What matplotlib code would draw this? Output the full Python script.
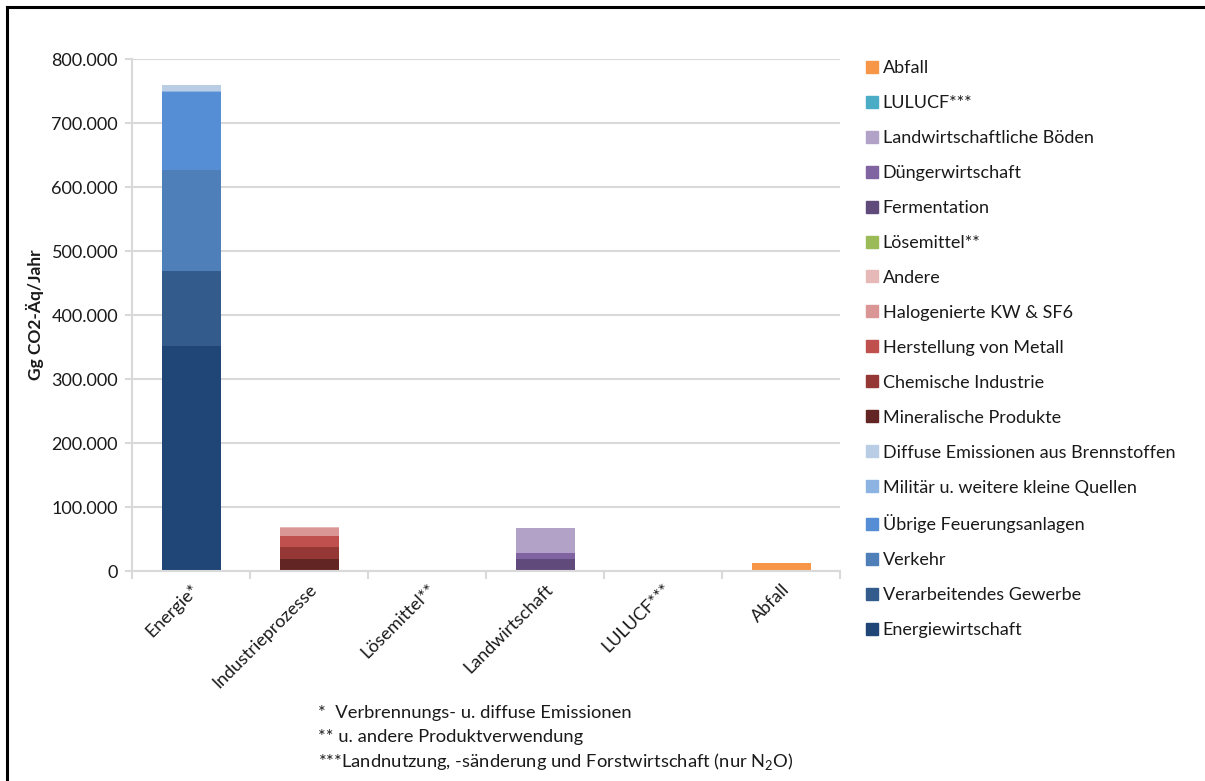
import numpy as np
import matplotlib.pyplot as plt
from matplotlib.ticker import FuncFormatter
from matplotlib.lines import Line2D

plt.rcParams['font.family'] = ['Lato', 'DejaVu Sans']
plt.rcParams['mathtext.fontset'] = 'custom'
plt.rcParams['mathtext.rm'] = 'Lato'

categories = ['Energie*', 'Industrieprozesse', 'Lösemittel**', 'Landwirtschaft', 'LULUCF***', 'Abfall']

# Gg CO2-Äq per sub-source, one value per category (stacking order bottom -> top)
energiewirtschaft = [352000, 0, 0, 0, 0, 0]
verarbeitendes_gewerbe = [116000, 0, 0, 0, 0, 0]
verkehr = [158000, 0, 0, 0, 0, 0]
uebrige_feuerung = [122000, 0, 0, 0, 0, 0]
militaer = [1500, 0, 0, 0, 0, 0]
diffuse = [9500, 0, 0, 0, 0, 0]
mineralische = [0, 18000, 0, 0, 0, 0]
chemische = [0, 19000, 0, 0, 0, 0]
metall = [0, 18000, 0, 0, 0, 0]
halogenierte = [0, 12500, 0, 0, 0, 0]
andere = [0, 500, 0, 0, 0, 0]
loesemittel = [0, 0, 0, 0, 0, 0]
fermentation = [0, 0, 0, 19500, 0, 0]
duenger = [0, 0, 0, 8000, 0, 0]
boeden = [0, 0, 0, 40000, 0, 0]
lulucf = [0, 0, 0, 0, 0, 0]
abfall = [0, 0, 0, 0, 0, 13000]

series = [
    ('Energiewirtschaft', energiewirtschaft, '#1F4677'),
    ('Verarbeitendes Gewerbe', verarbeitendes_gewerbe, '#335C8D'),
    ('Verkehr', verkehr, '#4F7FB8'),
    ('Übrige Feuerungsanlagen', uebrige_feuerung, '#558ED5'),
    ('Militär u. weitere kleine Quellen', militaer, '#8DB3E2'),
    ('Diffuse Emissionen aus Brennstoffen', diffuse, '#B9CDE5'),
    ('Mineralische Produkte', mineralische, '#632523'),
    ('Chemische Industrie', chemische, '#953735'),
    ('Herstellung von Metall', metall, '#C0504D'),
    ('Halogenierte KW & SF6', halogenierte, '#D99694'),
    ('Andere', andere, '#E6B9B8'),
    ('Lösemittel**', loesemittel, '#9BBB59'),
    ('Fermentation', fermentation, '#604A7B'),
    ('Düngerwirtschaft', duenger, '#8064A2'),
    ('Landwirtschaftliche Böden', boeden, '#B3A2C7'),
    ('LULUCF***', lulucf, '#4BACC6'),
    ('Abfall', abfall, '#F79646'),
]

FS = 13
TXT = '#1a1a1a'

W, H = 1205, 781
fig = plt.figure(figsize=(W / 100, H / 100), dpi=100)
ax = fig.add_axes([132 / W, 1 - 571 / H, (840 - 132) / W, (571 - 59) / H])

x = np.arange(len(categories))
bottom = np.zeros(len(categories))
for name, vals, col in series:
    vals = np.array(vals, dtype=float)
    ax.bar(x, vals, 0.5, bottom=bottom, color=col, label=name)
    bottom += vals

ax.set_xlim(-0.5, len(categories) - 0.5)
ax.set_ylim(0, 800000)
ax.set_yticks(np.arange(0, 800001, 100000))
ax.yaxis.set_major_formatter(FuncFormatter(lambda v, p: f'{int(v):,}'.replace(',', '.')))
ax.yaxis.grid(True, color='#D9D9D9', lw=1.5)
ax.set_axisbelow(True)
for s in ['top', 'right']:
    ax.spines[s].set_visible(False)
for s in ['left', 'bottom']:
    ax.spines[s].set_color('#D9D9D9')
    ax.spines[s].set_linewidth(1.5)
ax.tick_params(axis='y', length=5, color='#D9D9D9', width=1.5, labelsize=FS, pad=5, labelcolor=TXT)

# category labels, with short ticks on the category boundaries
ax.set_xticks(x)
ax.set_xticklabels(categories, rotation=45, ha='right', rotation_mode='anchor', fontsize=FS, color=TXT)
ax.tick_params(axis='x', which='major', length=0, pad=7)
ax.set_xticks(np.arange(-0.5, len(categories)), minor=True)
ax.tick_params(axis='x', which='minor', length=6, color='#D9D9D9', width=1.5)

ax.set_ylabel('Gg CO2-Äq/Jahr', fontsize=FS - 0.5, fontweight='bold', color=TXT)
ax.yaxis.set_label_coords(-0.125, 0.5)

handles = [Line2D([], [], marker='s', linestyle='none', markersize=8,
                  markerfacecolor=col, markeredgecolor=col) for _, _, col in series][::-1]
labels = [name for name, _, _ in series][::-1]
leg = fig.legend(handles, labels, loc='upper left', bbox_to_anchor=(853 / W, 1 - 51 / H),
                 frameon=False, fontsize=FS, labelspacing=1.05, handletextpad=0.05,
                 handlelength=1.1, borderpad=0)
for t in leg.get_texts():
    t.set_color(TXT)

notes = ['*  Verbrennungs- u. diffuse Emissionen',
         '** u. andere Produktverwendung',
         '***Landnutzung, -sänderung und Forstwirtschaft (nur N$_2$O)']
for i, t in enumerate(notes):
    fig.text(318 / W, 1 - (713 + 24 * i) / H, t, fontsize=FS + 0.2, va='center', ha='left', color=TXT)

# chart frame (left and top edges)
fig.add_artist(Line2D([7 / W, 7 / W], [-0.01, 1 - 7 / H], transform=fig.transFigure, color='black', lw=2.2))
fig.add_artist(Line2D([7 / W, 1.01], [1 - 7 / H, 1 - 7 / H], transform=fig.transFigure, color='black', lw=2.2))

fig.savefig('out.png', dpi=100)
